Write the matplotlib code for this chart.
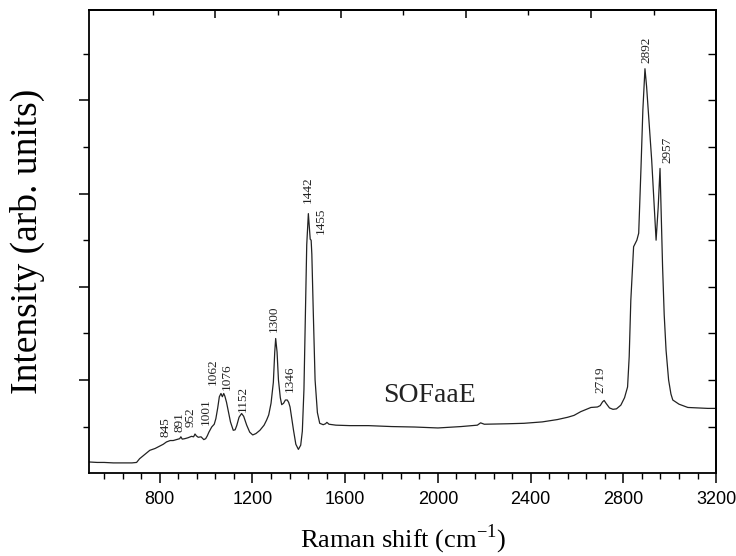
import matplotlib
matplotlib.use("Agg")
import matplotlib.pyplot as plt

# spectrum (cm-1, arb. units)
shift = [495, 530, 560, 600, 640, 680, 700, 713, 735, 757, 780, 800, 815, 829, 845,
         858, 872, 886, 891, 897, 908, 922, 937, 946, 952, 958, 966, 978, 990, 998,
         1005, 1012, 1024, 1035, 1042, 1050, 1057, 1064, 1070, 1076, 1081, 1088, 1095,
         1105, 1117, 1125, 1132, 1142, 1153, 1162, 1175, 1188, 1201, 1215, 1232, 1250,
         1261, 1270, 1280, 1290, 1296, 1300, 1306, 1312, 1320, 1326, 1334, 1342, 1350,
         1356, 1362, 1370, 1377, 1387, 1398, 1408, 1415, 1422, 1428, 1434, 1441, 1445,
         1449, 1453, 1456, 1462, 1470, 1480, 1490, 1505, 1515, 1521, 1530, 1560, 1620,
         1700, 1800, 1900, 2000, 2100, 2170, 2184, 2200, 2300, 2371, 2450, 2515, 2560,
         2587, 2616, 2640, 2660, 2688, 2700, 2710, 2717, 2725, 2740, 2755, 2770, 2789,
         2805, 2818, 2825, 2832, 2844, 2858, 2866, 2876, 2884, 2893, 2900, 2907, 2915,
         2922, 2932, 2941, 2950, 2958, 2963, 2969, 2976, 2984, 2995, 3005, 3013, 3040,
         3078, 3120, 3164, 3200]
intensity = [0.24, 0.23, 0.23, 0.22, 0.22, 0.22, 0.23, 0.31, 0.40, 0.49, 0.53, 0.58, 0.62, 0.67, 0.70,
             0.70, 0.72, 0.74, 0.78, 0.73, 0.74, 0.76, 0.79, 0.78, 0.84, 0.80, 0.77, 0.78, 0.72, 0.74,
             0.80, 0.88, 0.99, 1.05, 1.17, 1.40, 1.64, 1.71, 1.64, 1.71, 1.65, 1.52, 1.35,
             1.10, 0.92, 0.93, 1.02, 1.20, 1.28, 1.22, 1.03, 0.88, 0.82, 0.85, 0.92, 1.03,
             1.14, 1.25, 1.50, 1.95, 2.60, 2.89, 2.60, 2.00, 1.62, 1.47, 1.50, 1.57, 1.57,
             1.52, 1.42, 1.15, 0.92, 0.62, 0.51, 0.60, 0.90, 1.80, 3.40, 4.90, 5.57, 5.30,
             5.02, 5.00, 4.70, 3.50, 2.00, 1.30, 1.07, 1.04, 1.06, 1.09, 1.05, 1.03, 1.02,
             1.02, 1.00, 0.99, 0.97, 1.00, 1.03, 1.08, 1.05, 1.06, 1.07, 1.10, 1.15, 1.20,
             1.24, 1.32, 1.37, 1.41, 1.42, 1.45, 1.53, 1.56, 1.50, 1.40, 1.37, 1.38, 1.46,
             1.62, 1.85, 2.50, 3.71, 4.86, 5.00, 5.15, 6.57, 7.80, 8.68, 8.30, 7.79, 7.20,
             6.72, 5.80, 5.00, 5.70, 6.54, 5.60, 4.43, 3.40, 2.64, 2.00, 1.70, 1.57, 1.48,
             1.41, 1.40, 1.39, 1.39]

peak_labels = ['845', '891', '952', '1001', '1062', '1076', '1152', '1300', '1346',
               '1442', '1455', '2719', '2892', '2957']
label_x = [826, 883, 933, 999, 1030, 1088, 1160, 1294, 1362, 1438, 1496, 2703, 2901, 2988]
label_y = [0.78, 0.89, 0.99, 1.03, 1.89, 1.78, 1.32, 3.03, 1.74, 5.79, 5.14, 1.72, 8.80, 6.65]

x_ticks = [800, 1200, 1600, 2000, 2400, 2800, 3200]
x_minor = list(range(560, 3200, 80))
y_major = [2, 4, 6, 8]
y_minor = [1, 3, 5, 7, 9]
top_major = [1040, 1580, 2120, 2660]
top_minor = [770, 1310, 1850, 2390, 2930]

serif = 'Liberation Serif'
sans = 'Liberation Sans'

fig = plt.figure(figsize=(7.36, 5.56), dpi=100)
ax = fig.add_axes([0.121, 0.149, 0.852, 0.833])

ax.plot(shift, intensity, color='#222222', lw=0.9)

for txt, lx, ly in zip(peak_labels, label_x, label_y):
    ax.text(lx, ly, txt, rotation=90, ha='center', va='bottom',
            fontsize=9.5, family=serif, color='#222222')

ax.text(1764, 1.53, 'SOFaaE', fontsize=20, family=serif, color='#222222')

ax.set_xlim(495, 3200)
ax.set_ylim(0, 9.94)

ax.set_xticks(x_ticks)
ax.set_xticks(x_minor, minor=True)
ax.set_yticks(y_major)
ax.set_yticks(y_minor, minor=True)
ax.set_yticklabels([])
for lab in ax.get_xticklabels():
    lab.set_family(sans)
ax.tick_params(axis='x', which='major', direction='out', length=7, width=1.1,
               labelsize=13, pad=6)
ax.tick_params(axis='x', which='minor', direction='out', length=4.5, width=1.0)
ax.tick_params(axis='y', which='major', direction='out', length=7, width=1.1)
ax.tick_params(axis='y', which='minor', direction='out', length=4, width=1.0)

# right and top axes have their ticks pointing in
right = ax.secondary_yaxis('right')
right.set_yticks(y_major + y_minor)
right.set_yticklabels([])
right.tick_params(direction='in', length=6, width=1.0)

top = ax.secondary_xaxis('top')
top.set_xticks(top_major)
top.set_xticks(top_minor, minor=True)
top.set_xticklabels([])
top.tick_params(which='major', direction='in', length=6, width=1.1)
top.tick_params(which='minor', direction='in', length=3.5, width=1.0)

for s in ax.spines.values():
    s.set_linewidth(1.3)
right.spines['right'].set_linewidth(1.3)
top.spines['top'].set_linewidth(1.3)

ax.set_xlabel('Raman shift (cm$^{\\mathregular{-1}}$)', fontsize=19, family=serif,
              labelpad=10)
ax.set_ylabel('Intensity (arb. units)', fontsize=27, family=serif)
ax.yaxis.set_label_coords(-0.07, 0.5)

fig.savefig('out.png', dpi=100)
